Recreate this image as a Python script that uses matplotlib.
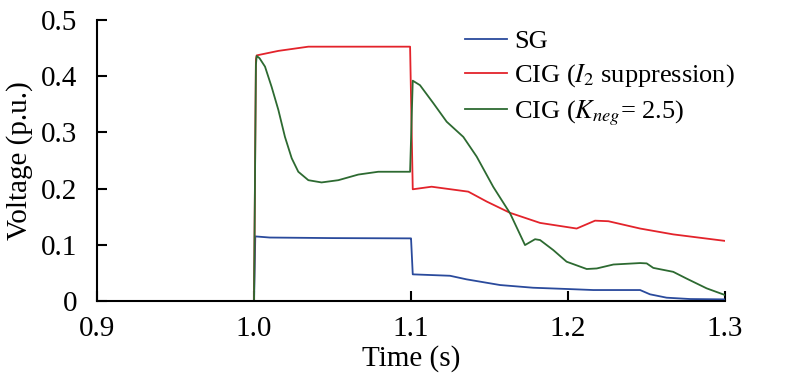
import matplotlib
matplotlib.use("Agg")
import matplotlib.pyplot as plt

plt.rcParams['font.family'] = ['Liberation Serif', 'DejaVu Serif']
plt.rcParams['mathtext.fontset'] = 'stix'

# SG
t_sg = [0.9, 1.0, 1.0008, 1.01, 1.05, 1.0995, 1.1, 1.1011, 1.1248, 1.1354, 1.1567, 1.1777, 1.2, 1.2161, 1.2459,
        1.2522, 1.2628, 1.2777, 1.3]
v_sg = [0.0, 0.0, 0.115, 0.113, 0.112, 0.1115, 0.1115, 0.0475, 0.045, 0.0386, 0.0285, 0.0237, 0.0214, 0.0196, 0.0196,
        0.012, 0.006, 0.0036, 0.003]

# CIG (I2 suppression)
t_i2 = [0.9, 1.0, 1.0012, 1.0017, 1.0155, 1.0346, 1.06, 1.0985, 1.0994, 1.1011, 1.1131, 1.1365, 1.1482, 1.163,
        1.1822, 1.2055, 1.2172, 1.2257, 1.2459, 1.267, 1.3]
v_i2 = [0.0, 0.0, 0.43, 0.437, 0.445, 0.4525, 0.4525, 0.4525, 0.4525, 0.1988, 0.2034, 0.1946, 0.177, 0.157,
        0.139, 0.129, 0.143, 0.142, 0.129, 0.1186, 0.107]

# CIG (Kneg = 2.5)
t_kn = [0.9, 1.0, 1.0012, 1.0017, 1.0035, 1.007, 1.0112, 1.0155, 1.0197, 1.024, 1.0282, 1.0346, 1.043, 1.0537,
        1.0664, 1.0791, 1.0983, 1.0994, 1.1011, 1.1057, 1.1142, 1.1227, 1.1333, 1.1418, 1.1524, 1.1631, 1.1726,
        1.179, 1.1822, 1.1906, 1.1991, 1.2119, 1.2183, 1.2289, 1.2459, 1.2501, 1.2543, 1.267, 1.2755, 1.2883, 1.3]
v_kn = [0.0, 0.0, 0.42, 0.436, 0.432, 0.417, 0.381, 0.340, 0.292, 0.254, 0.230, 0.215, 0.211, 0.215,
        0.225, 0.230, 0.230, 0.230, 0.392, 0.384, 0.352, 0.319, 0.292, 0.257, 0.203, 0.156, 0.0996,
        0.110, 0.1085, 0.0907, 0.070, 0.057, 0.058, 0.065, 0.0676, 0.067, 0.059, 0.052, 0.040, 0.0226, 0.0107]

labels = ['SG', r'CIG ($I_2$ suppression)', r'CIG ($K_{neg}$= 2.5)']
colors = ['#2a4a9c', '#e3232b', '#2d6a31']
x_ticks = [0.9, 1.0, 1.1, 1.2, 1.3]
y_ticks = [0, 0.1, 0.2, 0.3, 0.4, 0.5]

fig = plt.figure(figsize=(7.85, 3.84), dpi=100)
ax = fig.add_axes([0.1236, 0.216, 0.80, 0.732])

ax.plot(t_sg, v_sg, color=colors[0], lw=1.3, label=labels[0])
ax.plot(t_i2, v_i2, color=colors[1], lw=1.3, label=labels[1])
ax.plot(t_kn, v_kn, color=colors[2], lw=1.3, label=labels[2])

ax.set_xlim(0.9, 1.3)
ax.set_ylim(0, 0.5)
ax.set_xticks(x_ticks)
ax.set_xticklabels([f'{x:.1f}' for x in x_ticks])
ax.set_yticks(y_ticks)
ax.set_yticklabels(['0'] + [f'{y:.1f}' for y in y_ticks[1:]])
for s in ['top', 'right']:
    ax.spines[s].set_visible(False)
for s in ['left', 'bottom']:
    ax.spines[s].set_linewidth(1.5)
ax.tick_params(direction='in', length=7, width=1.5, labelsize=21)
ax.tick_params(axis='x', pad=11)
ax.tick_params(axis='y', pad=14)
ax.set_xlabel('Time (s)', fontsize=21, labelpad=2)
ax.set_ylabel('Voltage (p.u.)', fontsize=21, labelpad=6)

ax.legend(loc='upper left', bbox_to_anchor=(0.586, 0.965), frameon=False, fontsize=19,
          handlelength=1.6, handletextpad=0.25, labelspacing=0.35, borderaxespad=0, borderpad=0)

fig.savefig('out.png', dpi=100)
